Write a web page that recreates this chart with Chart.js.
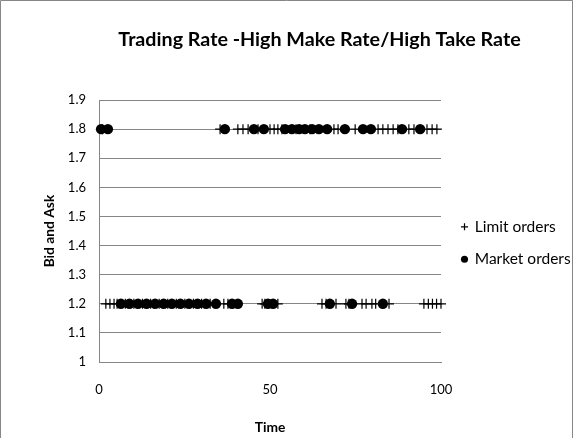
<!DOCTYPE html>
<html>
<head>
<meta charset="utf-8">
<script src="https://cdn.jsdelivr.net/npm/chart.js@4"></script>
<style>
  html, body { margin: 0; padding: 0; background: #fff; }
  canvas { display: block; }
</style>
</head>
<body>
<canvas id="c" width="573" height="438"></canvas>
<script>
// Labels
const chartTitle = 'Trading Rate -High Make Rate/High Take Rate';
const xTitle = 'Time';
const yTitle = 'Bid and Ask';
const seriesNames = ['Limit orders', 'Market orders'];

// Axis ticks
const xTicks = [0, 50, 100];
const yTicks = [1, 1.1, 1.2, 1.3, 1.4, 1.5, 1.6, 1.7, 1.8, 1.9];

// Price levels of the two sides of the book
const askPrice = 1.8;
const bidPrice = 1.2;

// Arrival times of limit orders on each side
const limitAskTimes = [1, 35.4, 40.6, 42.1, 43.6, 46.5, 50, 51.2, 52.3, 53.5, 57.6, 61.7,
  68.7, 69.9, 74.9, 81.6, 83, 84.5, 86, 87.4, 90.6, 92.1, 95.9, 97.4, 98.8];
const limitBidTimes = [2, 3.2, 4.4, 5.3, 7.7, 10.2, 12.7, 15.1, 17.6, 20.1, 22.6, 25.1,
  27.6, 30, 32.5, 36.5, 37.7, 47.7, 48.5, 52.3, 65.2, 66.4, 69.3, 72.2, 73.1,
  76.9, 78.1, 79.8, 80.9, 84.8, 95, 96.3, 97.5, 98.7, 100];

// Arrival times of market orders hitting each side
const marketAskTimes = [0.6, 2.6, 36.8, 45.3, 48.2, 54.4, 56.4, 58.5, 60.2, 62.3, 64.3,
  66.7, 71.9, 77.2, 79.5, 88.6, 93.9];
const marketBidTimes = [6.4, 8.9, 11.4, 13.9, 16.4, 18.9, 21.3, 23.8, 26.3, 28.8, 31.3,
  34.2, 38.9, 40.6, 49.4, 50.9, 67.5, 74, 83];

const toPoints = (times, price) => times.map(t => ({ x: t, y: price }));

const family = 'Lato, "Open Sans", sans-serif';
const tickFont = { family, size: 13 };
const boldFont = { family, size: 13.8, weight: 'bold' };
const legendFont = { family, size: 15.5 };
const gray = '#868686';

// White background with a thin frame around the chart
const frame = {
  id: 'frame',
  beforeDraw(chart) {
    const { ctx, width, height } = chart;
    ctx.save();
    ctx.fillStyle = '#fff';
    ctx.fillRect(0, 0, width, height);
    ctx.strokeStyle = gray;
    ctx.lineWidth = 1;
    ctx.beginPath();
    ctx.moveTo(0.5, height);
    ctx.lineTo(0.5, 0.5);
    ctx.lineTo(width - 0.5, 0.5);
    ctx.lineTo(width - 0.5, height);
    ctx.stroke();
    ctx.restore();
  }
};

// Fixed legend column width and offsets for the title and legend
const boxes = {
  id: 'boxes',
  beforeLayout(chart) {
    const lg = chart.legend;
    if (lg && !lg.$fixedWidth) {
      const fit = lg.fit.bind(lg);
      lg.fit = function () { fit(); this.width = 132; };
      lg.$fixedWidth = true;
    }
  },
  afterLayout(chart) {
    const tb = chart.titleBlock;
    tb.left = 66;
    tb.right = chart.width;
    const lg = chart.legend;
    lg.top += 12;
    lg.bottom += 12;
    lg.left += 4;
    lg.right += 4;
  }
};

new Chart(document.getElementById('c'), {
  type: 'scatter',
  data: {
    datasets: [
      {
        label: seriesNames[0],
        data: [...toPoints(limitAskTimes, askPrice), ...toPoints(limitBidTimes, bidPrice)],
        pointStyle: 'cross',
        pointRadius: 5,
        pointBorderWidth: 1.2,
        borderColor: '#000',
        backgroundColor: '#000',
        clip: false
      },
      {
        label: seriesNames[1],
        data: [...toPoints(marketAskTimes, askPrice), ...toPoints(marketBidTimes, bidPrice)],
        pointStyle: 'circle',
        pointRadius: 5.2,
        pointBorderWidth: 0,
        borderColor: '#000',
        backgroundColor: '#000',
        clip: false
      }
    ]
  },
  options: {
    responsive: false,
    animation: false,
    devicePixelRatio: 1,
    layout: { padding: 0 },
    plugins: {
      title: {
        display: true,
        text: chartTitle,
        color: '#000',
        font: { family, size: 19.7, weight: 'bold' },
        padding: { top: 28.2, bottom: 48.2 }
      },
      legend: {
        position: 'right',
        fullSize: false,
        labels: {
          usePointStyle: true,
          boxWidth: 5,
          boxHeight: 5,
          padding: 17,
          color: '#000',
          font: legendFont
        }
      },
      tooltip: { enabled: false }
    },
    scales: {
      x: {
        type: 'linear',
        min: 0,
        max: 100,
        afterBuildTicks: s => { s.ticks = xTicks.map(v => ({ value: v })); },
        grid: { display: false, drawTicks: false },
        border: { display: true, color: gray },
        ticks: { color: '#000', padding: 20, font: tickFont, maxRotation: 0, callback: v => String(v) },
        title: { display: true, text: xTitle, color: '#000', font: boldFont, padding: { top: 2.1, bottom: 1.7 } }
      },
      y: {
        type: 'linear',
        min: 1,
        max: 1.9,
        afterBuildTicks: s => { s.ticks = yTicks.map(v => ({ value: v })); },
        afterFit: s => { s.width = 99; },
        grid: { color: gray, drawTicks: false },
        border: { display: true, color: gray },
        ticks: { color: '#000', padding: 13, font: tickFont, callback: v => String(v) },
        title: { display: true, text: yTitle, color: '#000', font: boldFont, padding: { top: 41.7, bottom: 10 } }
      }
    }
  },
  plugins: [frame, boxes]
});
</script>
</body>
</html>
